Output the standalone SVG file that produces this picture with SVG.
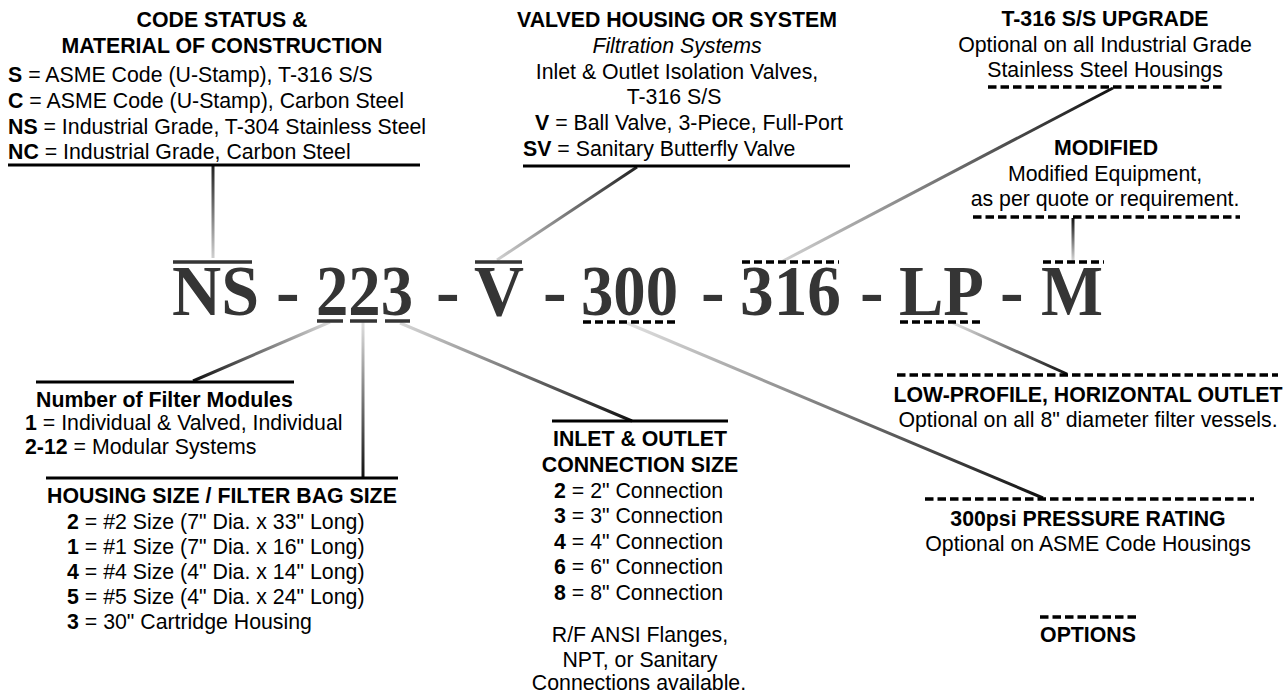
<svg xmlns="http://www.w3.org/2000/svg" width="1287" height="694" viewBox="0 0 1287 694">
<style>
text{font-family:"Liberation Sans",Arial,sans-serif;font-size:21.3px;fill:#000}
.h{font-weight:bold}
.c{text-anchor:middle}
b,.b{font-weight:bold}
.code{font-family:"Liberation Serif","Times New Roman",serif;font-size:71px;font-weight:bold;fill:#353535}
.solid{stroke:#000;stroke-width:3;fill:none}
.dash{stroke:#000;stroke-width:3.5;stroke-dasharray:8.5 4;fill:none}
.mark{stroke:#353535;stroke-width:3.5;fill:none}
.mdash{stroke:#000;stroke-width:3.5;stroke-dasharray:8 4;fill:none}
.conn{stroke-width:3;fill:none}
</style>
<defs>
<linearGradient id="g1" gradientUnits="userSpaceOnUse" x1="213" y1="166" x2="213" y2="258"><stop offset="0" stop-color="#222"/><stop offset="1" stop-color="#d0d0d0"/></linearGradient>
<linearGradient id="g2" gradientUnits="userSpaceOnUse" x1="637" y1="167" x2="497" y2="260"><stop offset="0" stop-color="#222"/><stop offset="1" stop-color="#d0d0d0"/></linearGradient>
<linearGradient id="g3" gradientUnits="userSpaceOnUse" x1="1113" y1="88" x2="783" y2="261"><stop offset="0" stop-color="#111"/><stop offset="1" stop-color="#d0d0d0"/></linearGradient>
<linearGradient id="g4" gradientUnits="userSpaceOnUse" x1="1073" y1="218" x2="1073" y2="261"><stop offset="0" stop-color="#111"/><stop offset="1" stop-color="#d8d8d8"/></linearGradient>
<linearGradient id="g5" gradientUnits="userSpaceOnUse" x1="330" y1="322" x2="193" y2="381"><stop offset="0" stop-color="#d8d8d8"/><stop offset="1" stop-color="#111"/></linearGradient>
<linearGradient id="g6" gradientUnits="userSpaceOnUse" x1="363" y1="322" x2="363" y2="477"><stop offset="0" stop-color="#e0e0e0"/><stop offset="1" stop-color="#111"/></linearGradient>
<linearGradient id="g7" gradientUnits="userSpaceOnUse" x1="400" y1="323" x2="632" y2="421"><stop offset="0" stop-color="#d8d8d8"/><stop offset="1" stop-color="#111"/></linearGradient>
<linearGradient id="g8" gradientUnits="userSpaceOnUse" x1="627" y1="323" x2="1043" y2="498"><stop offset="0" stop-color="#e0e0e0"/><stop offset="1" stop-color="#111"/></linearGradient>
<linearGradient id="g9" gradientUnits="userSpaceOnUse" x1="953" y1="323" x2="1067" y2="374"><stop offset="0" stop-color="#e0e0e0"/><stop offset="1" stop-color="#111"/></linearGradient>
</defs>
<rect width="1287" height="694" fill="#fff"/>

<g id="connectors">
<line class="conn" stroke="url(#g1)" x1="213" y1="166" x2="213" y2="258"/>
<line class="conn" stroke="url(#g2)" x1="637" y1="167" x2="497" y2="260"/>
<line class="conn" stroke="url(#g3)" x1="1113" y1="88" x2="783" y2="261"/>
<line class="conn" stroke="url(#g4)" x1="1073" y1="218" x2="1073" y2="261"/>
<line class="conn" stroke="url(#g5)" x1="330" y1="322" x2="193" y2="381"/>
<line class="conn" stroke="url(#g6)" x1="363" y1="322" x2="363" y2="477"/>
<line class="conn" stroke="url(#g7)" x1="400" y1="323" x2="632" y2="421"/>
<line class="conn" stroke="url(#g8)" x1="627" y1="323" x2="1043" y2="498"/>
<line class="conn" stroke="url(#g9)" x1="953" y1="323" x2="1067" y2="374"/>
</g>

<g id="model-code">
<text class="code" x="172" y="315" textLength="87" lengthAdjust="spacingAndGlyphs">NS</text>
<text class="code" x="276" y="315">-</text>
<text class="code" x="316" y="315" textLength="97" lengthAdjust="spacingAndGlyphs">223</text>
<text class="code" x="436" y="315">-</text>
<text class="code" x="474" y="315" textLength="50" lengthAdjust="spacingAndGlyphs">V</text>
<text class="code" x="543" y="315">-</text>
<text class="code" x="581" y="315" textLength="97" lengthAdjust="spacingAndGlyphs">300</text>
<text class="code" x="701" y="315">-</text>
<text class="code" x="740" y="315" textLength="101" lengthAdjust="spacingAndGlyphs">316</text>
<text class="code" x="860" y="315">-</text>
<text class="code" x="899" y="315" textLength="85" lengthAdjust="spacingAndGlyphs">LP</text>
<text class="code" x="1000" y="315">-</text>
<text class="code" x="1041" y="315" textLength="62" lengthAdjust="spacingAndGlyphs">M</text>
<line class="mark" x1="173" y1="262" x2="252" y2="262"/>
<line class="mark" x1="475" y1="262" x2="522" y2="262"/>
<line class="mark" x1="317" y1="321" x2="343" y2="321"/>
<line class="mark" x1="350" y1="321" x2="377" y2="321"/>
<line class="mark" x1="385" y1="321" x2="410" y2="321"/>
<line class="mdash" x1="583" y1="322" x2="678" y2="322"/>
<line class="mdash" x1="742" y1="262" x2="839" y2="262"/>
<line class="mdash" x1="900" y1="322" x2="983" y2="322"/>
<line class="mdash" x1="1043" y1="262" x2="1104" y2="262"/>
</g>

<g id="code-status">
<text class="h c" x="222" y="27">CODE STATUS &amp;</text>
<text class="h c" x="222" y="53">MATERIAL OF CONSTRUCTION</text>
<text x="8" y="82"><tspan class="b">S</tspan> = ASME Code (U-Stamp), T-316 S/S</text>
<text x="8" y="108"><tspan class="b">C</tspan> = ASME Code (U-Stamp), Carbon Steel</text>
<text x="8" y="134"><tspan class="b">NS</tspan> = Industrial Grade, T-304 Stainless Steel</text>
<text x="8" y="159"><tspan class="b">NC</tspan> = Industrial Grade, Carbon Steel</text>
<line class="solid" x1="8" y1="165" x2="420" y2="165"/>
</g>

<g id="valved">
<text class="h c" x="677" y="27">VALVED HOUSING OR SYSTEM</text>
<text class="c" x="677" y="53" font-style="italic">Filtration Systems</text>
<text class="c" x="677" y="79">Inlet &amp; Outlet Isolation Valves,</text>
<text class="c" x="674" y="104">T-316 S/S</text>
<text x="535" y="130"><tspan class="b">V</tspan> = Ball Valve, 3-Piece, Full-Port</text>
<text x="523" y="156"><tspan class="b">SV</tspan> = Sanitary Butterfly Valve</text>
<line class="solid" x1="523" y1="166" x2="850" y2="166"/>
</g>

<g id="t316-upgrade">
<text class="h c" x="1105" y="26">T-316 S/S UPGRADE</text>
<text class="c" x="1105" y="52">Optional on all Industrial Grade</text>
<text class="c" x="1105" y="77">Stainless Steel Housings</text>
<line class="dash" x1="988" y1="87" x2="1224" y2="87"/>
</g>

<g id="modified">
<text class="h c" x="1106" y="155">MODIFIED</text>
<text class="c" x="1105" y="181">Modified Equipment,</text>
<text class="c" x="1105" y="206">as per quote or requirement.</text>
<line class="dash" x1="973" y1="217" x2="1240" y2="217"/>
</g>

<g id="filter-modules">
<line class="solid" x1="36" y1="382" x2="294" y2="382"/>
<text class="h" x="36" y="407">Number of Filter Modules</text>
<text x="25" y="430"><tspan class="b">1</tspan> = Individual &amp; Valved, Individual</text>
<text x="25" y="454"><tspan class="b">2-12</tspan> = Modular Systems</text>
</g>

<g id="housing-size">
<line class="solid" x1="46" y1="478" x2="398" y2="478"/>
<text class="h" x="47" y="503">HOUSING SIZE / FILTER BAG SIZE</text>
<text x="67" y="529"><tspan class="b">2</tspan> = #2 Size (7" Dia. x 33" Long)</text>
<text x="67" y="554"><tspan class="b">1</tspan> = #1 Size (7" Dia. x 16" Long)</text>
<text x="67" y="579"><tspan class="b">4</tspan> = #4 Size (4" Dia. x 14" Long)</text>
<text x="67" y="604"><tspan class="b">5</tspan> = #5 Size (4" Dia. x 24" Long)</text>
<text x="67" y="629"><tspan class="b">3</tspan> = 30" Cartridge Housing</text>
</g>

<g id="connection-size">
<line class="solid" x1="552" y1="421" x2="728" y2="421"/>
<text class="h c" x="640" y="446">INLET &amp; OUTLET</text>
<text class="h c" x="640" y="472">CONNECTION SIZE</text>
<text x="554" y="498"><tspan class="b">2</tspan> = 2" Connection</text>
<text x="554" y="523"><tspan class="b">3</tspan> = 3" Connection</text>
<text x="554" y="549"><tspan class="b">4</tspan> = 4" Connection</text>
<text x="554" y="574"><tspan class="b">6</tspan> = 6" Connection</text>
<text x="554" y="600"><tspan class="b">8</tspan> = 8" Connection</text>
<text class="c" x="640" y="642">R/F ANSI Flanges,</text>
<text class="c" x="640" y="667">NPT, or Sanitary</text>
<text class="c" x="639" y="690">Connections available.</text>
</g>

<g id="low-profile">
<line class="dash" x1="897" y1="375" x2="1278" y2="375"/>
<text class="h c" x="1088" y="402">LOW-PROFILE, HORIZONTAL OUTLET</text>
<text class="c" x="1088" y="427">Optional on all 8" diameter filter vessels.</text>
</g>

<g id="pressure-rating">
<line class="dash" x1="925" y1="499" x2="1254" y2="499"/>
<text class="h c" x="1088" y="526">300psi PRESSURE RATING</text>
<text class="c" x="1088" y="551">Optional on ASME Code Housings</text>
</g>

<g id="options">
<line class="dash" x1="1040" y1="617" x2="1139" y2="617"/>
<text class="h c" x="1088" y="642">OPTIONS</text>
</g>
</svg>
